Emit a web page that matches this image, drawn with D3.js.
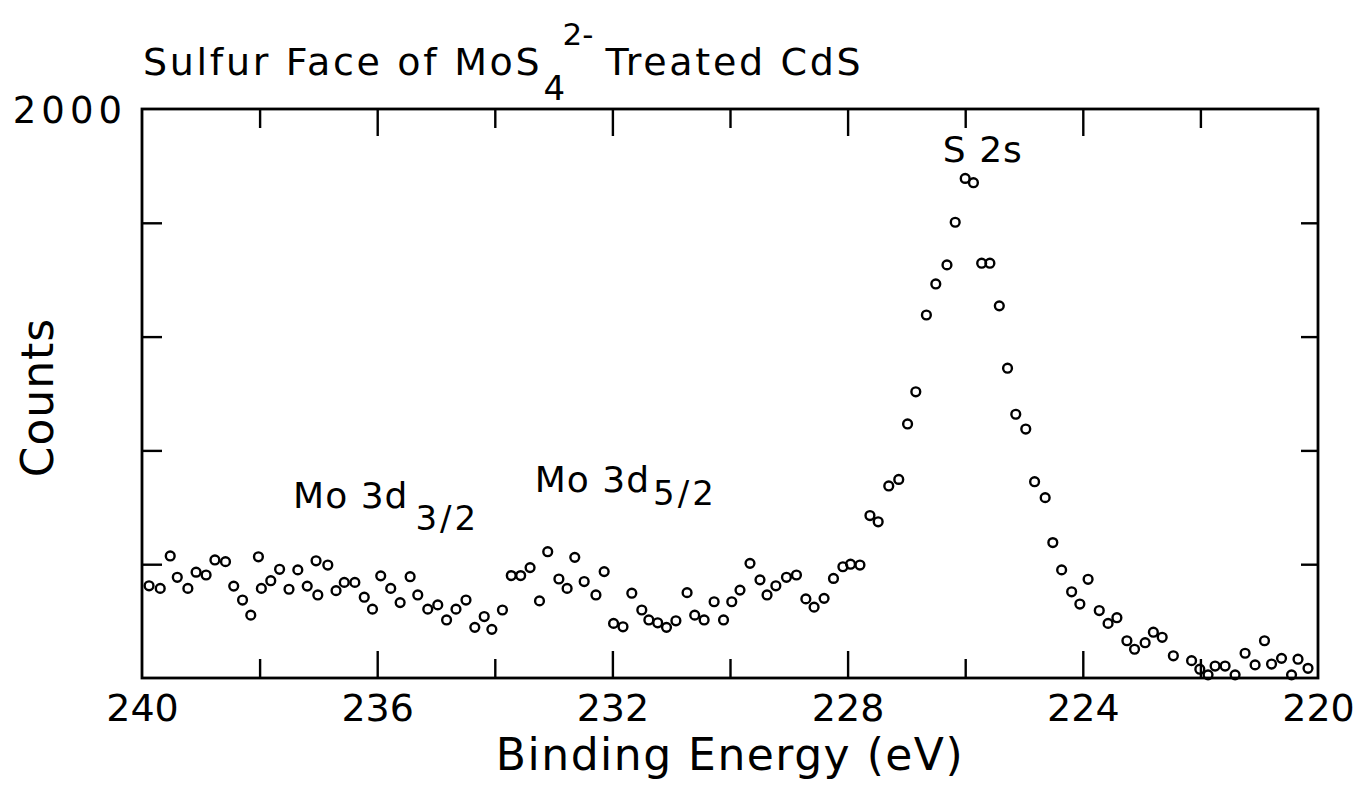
<!DOCTYPE html>
<html>
<head>
<meta charset="utf-8">
<script src="https://cdn.jsdelivr.net/npm/d3@7"></script>
<style>
  html, body { margin: 0; padding: 0; background: #ffffff; }
  svg { display: block; }
  text { font-family: "DejaVu Sans", sans-serif; fill: #000; }
</style>
</head>
<body>
<svg id="chart" width="1360" height="788"></svg>
<script>
// ---- data (binding energy in eV, counts) ----
const energy = [
  239.88, 239.69, 239.52, 239.40, 239.22, 239.08, 238.91, 238.76, 238.58, 238.44,
  238.29, 238.15, 238.02, 237.97, 237.81, 237.66, 237.50, 237.35, 237.19, 237.04,
  237.01, 236.84, 236.70, 236.56, 236.38, 236.22, 236.08, 235.94, 235.77, 235.61,
  235.44, 235.31, 235.14, 234.97, 234.82, 234.66, 234.49, 234.34, 234.18, 234.05,
  233.87, 233.72, 233.56, 233.40, 233.24, 233.10, 232.91, 232.77, 232.64, 232.48,
  232.28, 232.14, 231.98, 231.82, 231.67, 231.50, 231.38, 231.23, 231.08, 230.92,
  230.73, 230.60, 230.44, 230.27, 230.11, 229.97, 229.83, 229.66, 229.49, 229.37,
  229.22, 229.04, 228.87, 228.71, 228.57, 228.40, 228.24, 228.08, 227.95, 227.79,
  227.62, 227.48, 227.30, 227.13, 226.98, 226.84, 226.66, 226.50, 226.31, 226.17,
  226.00, 225.86, 225.72, 225.58, 225.42, 225.28, 225.14, 224.97, 224.82, 224.64,
  224.51, 224.36, 224.19, 224.05, 223.91, 223.72, 223.57, 223.42, 223.25, 223.12,
  222.94, 222.80, 222.65, 222.46, 222.15, 222.01, 221.87, 221.75, 221.58, 221.41,
  221.24, 221.07, 220.91, 220.79, 220.62, 220.45, 220.34, 220.17
];
const counts = [
  324, 315, 429, 354, 315, 372, 362, 415, 409, 323,
  274, 221, 426, 315, 342, 382, 312, 380, 323, 412,
  292, 397, 307, 336, 336, 284, 242, 359, 315, 265,
  356, 292, 242, 257, 204, 242, 274, 178, 216, 171,
  239, 360, 360, 388, 271, 444, 348, 315, 424, 339,
  292, 374, 192, 180, 298, 239, 204, 194, 178, 201,
  300, 221, 204, 268, 204, 268, 309, 403, 345, 292,
  324, 354, 362, 278, 249, 280, 350, 391, 400, 397,
  571, 549, 675, 698, 893, 1006, 1276, 1385, 1452, 1602,
  1756, 1741, 1458, 1458, 1308, 1089, 927, 875, 690, 634,
  476, 380, 303, 260, 347, 237, 192, 212, 131, 101,
  124, 161, 143, 78, 61, 31, 11, 42, 42, 11,
  87, 46, 131, 49, 69, 11, 66, 34
];
const xTicks = [240, 238, 236, 234, 232, 230, 228, 226, 224, 222, 220];
const xTickLabels = [240, 236, 232, 228, 224, 220];
const yTicks = [0, 400, 800, 1200, 1600, 2000];
const yTickLabels = [2000];
const titleMain = "Sulfur Face of MoS";
const titleSub = "4";
const titleSup = "2-";
const titleRest = "Treated CdS";
const xTitle = "Binding Energy (eV)";
const yTitle = "Counts";
const peakNames = ["Mo 3d", "Mo 3d", "S 2s"];
const peakSubs = ["3/2", "5/2", ""];
const peakLabelEnergy = [237.43, 233.32, 226.38];
const peakLabelCounts = [598, 654, 1812];
</script>
<script>
const svg = d3.select("#chart");
const L = 142, R = 1318, T = 109, B = 678;
const x = d3.scaleLinear().domain([240, 220]).range([L, R]);
const y = d3.scaleLinear().domain([0, 2000]).range([B, T]);
const axisW = 2.8;

// frame
svg.append("rect").attr("x", L).attr("y", T).attr("width", R - L).attr("height", B - T)
  .attr("fill", "none").attr("stroke", "#000").attr("stroke-width", axisW);

const inner = xTicks.filter(d => d !== 240 && d !== 220);
const isMajor = d => xTickLabels.includes(d);

// bottom axis (inward ticks)
const gB = svg.append("g").attr("transform", `translate(0,${B})`)
  .call(d3.axisBottom(x).tickValues(inner).tickSize(-19).tickSizeOuter(0).tickFormat(""));
gB.select(".domain").remove();
gB.selectAll(".tick line").attr("y2", d => isMajor(d) ? -27 : -19).attr("stroke-width", 2.4);

// bottom labels
const gBL = svg.append("g").attr("transform", `translate(0,${B})`)
  .call(d3.axisBottom(x).tickValues(xTickLabels).tickSize(0).tickFormat(d3.format("d")));
gBL.select(".domain").remove();
gBL.selectAll("text").attr("y", 43).attr("dy", null)
  .style("font-size", "38px").style("font-family", "DejaVu Sans, sans-serif");

// top axis
const gT = svg.append("g").attr("transform", `translate(0,${T})`)
  .call(d3.axisTop(x).tickValues(inner).tickSize(-20).tickSizeOuter(0).tickFormat(""));
gT.select(".domain").remove();
gT.selectAll(".tick line").attr("y2", d => isMajor(d) ? 27 : 19).attr("stroke-width", 2.4);

// left axis
const yInner = yTicks.filter(d => d !== 0 && d !== 2000);
const gL = svg.append("g").attr("transform", `translate(${L},0)`)
  .call(d3.axisLeft(y).tickValues(yInner).tickSize(-20).tickSizeOuter(0).tickFormat(""));
gL.select(".domain").remove();
gL.selectAll(".tick line").attr("stroke-width", 2.4);

const gLL = svg.append("g").attr("transform", `translate(${L},0)`)
  .call(d3.axisLeft(y).tickValues(yTickLabels).tickSize(0).tickFormat(d3.format("d")));
gLL.select(".domain").remove();
gLL.selectAll("text").attr("x", -15).attr("dy", "0.36em")
  .style("font-size", "37px").style("letter-spacing", "5px")
  .style("font-family", "DejaVu Sans, sans-serif");

// right axis
const gR = svg.append("g").attr("transform", `translate(${R},0)`)
  .call(d3.axisRight(y).tickValues(yInner).tickSize(-17).tickSizeOuter(0).tickFormat(""));
gR.select(".domain").remove();
gR.selectAll(".tick line").attr("stroke-width", 2.4);

// data points: open circles
const pts = d3.range(energy.length).map(i => ({ e: energy[i], c: counts[i] }));
svg.append("g").selectAll("circle").data(pts).join("circle")
  .attr("cx", d => x(d.e)).attr("cy", d => y(d.c)).attr("r", 4.4)
  .attr("fill", "none").attr("stroke", "#000").attr("stroke-width", 2.4);

// title
const t1 = svg.append("text").attr("x", 143).attr("y", 75)
  .style("font-size", "38px").style("letter-spacing", "2.7px").text(titleMain);
const endMain = 143 + t1.node().getComputedTextLength();
svg.append("text").attr("x", endMain + 1).attr("y", 100)
  .style("font-size", "34px").text(titleSub);
svg.append("text").attr("x", endMain + 20).attr("y", 45)
  .style("font-size", "31px").text(titleSup);
svg.append("text").attr("x", endMain + 63).attr("y", 75)
  .style("font-size", "38px").style("letter-spacing", "2.7px").text(titleRest);

// peak labels
const subDrop = [22, 13, 0];
const subGap = [7, 3, 0];
peakNames.forEach((name, i) => {
  const px = x(peakLabelEnergy[i]), py = y(peakLabelCounts[i]);
  const tx = svg.append("text").attr("x", px).attr("y", py)
    .style("font-size", "36px").style("letter-spacing", "1px").text(name);
  if (peakSubs[i]) {
    const w = tx.node().getComputedTextLength();
    svg.append("text").attr("x", px + w + subGap[i]).attr("y", py + subDrop[i])
      .style("font-size", "34px").style("letter-spacing", "3px").text(peakSubs[i]);
  }
});

// axis titles
svg.append("text").attr("x", (L + R) / 2).attr("y", 770).attr("text-anchor", "middle")
  .style("font-size", "44px").style("letter-spacing", "1.5px").text(xTitle);
svg.append("text").attr("transform", `translate(53,${(T + B) / 2 + 4}) rotate(-90)`)
  .attr("text-anchor", "middle").style("font-size", "44px").style("letter-spacing", "1px")
  .text(yTitle);
</script>
</body>
</html>
